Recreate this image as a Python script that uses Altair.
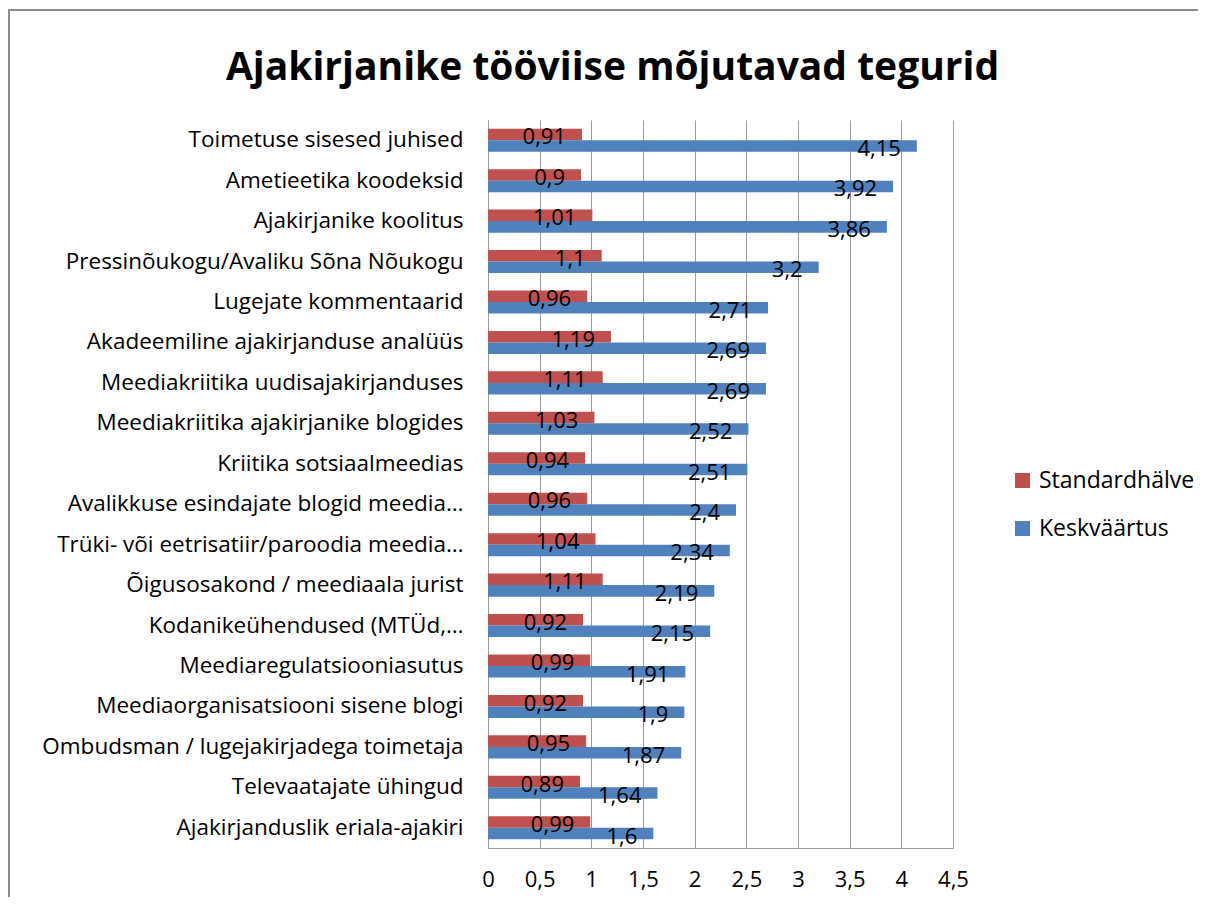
import altair as alt
import pandas as pd

categories = [
    "Toimetuse sisesed  juhised",
    "Ametieetika koodeksid",
    "Ajakirjanike koolitus",
    "Pressinõukogu/Avaliku Sõna Nõukogu",
    "Lugejate kommentaarid",
    "Akadeemiline ajakirjanduse analüüs",
    "Meediakriitika uudisajakirjanduses",
    "Meediakriitika ajakirjanike blogides",
    "Kriitika sotsiaalmeedias",
    "Avalikkuse esindajate blogid meedia…",
    "Trüki- või eetrisatiir/paroodia meedia…",
    "Õigusosakond / meediaala jurist",
    "Kodanikeühendused (MTÜd,…",
    "Meediaregulatsiooniasutus",
    "Meediaorganisatsiooni sisene blogi",
    "Ombudsman / lugejakirjadega toimetaja",
    "Televaatajate ühingud",
    "Ajakirjanduslik eriala-ajakiri",
]
std_dev = [0.91, 0.9, 1.01, 1.1, 0.96, 1.19, 1.11, 1.03, 0.94, 0.96, 1.04, 1.11, 0.92, 0.99, 0.92, 0.95, 0.89, 0.99]
mean = [4.15, 3.92, 3.86, 3.2, 2.71, 2.69, 2.69, 2.52, 2.51, 2.4, 2.34, 2.19, 2.15, 1.91, 1.9, 1.87, 1.64, 1.6]
series = ["Standardhälve", "Keskväärtus"]
colors = ["#C0504D", "#4F81BD"]
x_ticks = [0, 0.5, 1, 1.5, 2, 2.5, 3, 3.5, 4, 4.5]

rows = []
for c, s, m in zip(categories, std_dev, mean):
    rows.append({"cat": c, "series": series[0], "value": s})
    rows.append({"cat": c, "series": series[1], "value": m})
df = pd.DataFrame(rows)

FONT = "Open Sans"

base = alt.Chart(df).transform_calculate(
    lbl="replace(toString(datum.value), '.', ',')"
)

y_enc = alt.Y(
    "cat:N",
    sort=categories,
    title=None,
    scale=alt.Scale(paddingInner=0.43, paddingOuter=0.215),
    axis=alt.Axis(
        labelFontSize=22.5, labelColor="#000000", labelFont=FONT, labelPadding=25,
        ticks=False, domain=True, domainColor="#9a9a9a", labelLimit=600, grid=False,
    ),
)
x_enc = alt.X(
    "value:Q",
    title=None,
    scale=alt.Scale(domain=[0, 4.5], nice=False),
    axis=alt.Axis(
        values=x_ticks,
        labelExpr="replace(toString(datum.value), '.', ',')",
        labelFlush=False,
        grid=True, gridColor="#9a9a9a", ticks=False, domain=True, domainColor="#9a9a9a",
        labelFontSize=22, labelFont=FONT, labelColor="#000000", labelPadding=21,
    ),
)
yoff = alt.YOffset("series:N", sort=series, scale=alt.Scale(paddingInner=0, paddingOuter=0))

bars = base.mark_bar().encode(
    y=y_enc,
    x=x_enc,
    yOffset=yoff,
    color=alt.Color(
        "series:N",
        sort=series,
        scale=alt.Scale(domain=series, range=colors),
        legend=alt.Legend(
            title=None, orient="none", legendX=523, legendY=349,
            symbolType="square", symbolSize=225, symbolStrokeWidth=0,
            labelFontSize=23, labelFont=FONT, labelColor="#000000",
            rowPadding=24, labelOffset=5,
        ),
    ),
)

labels = base.mark_text(
    align="right", baseline="middle", dx=-16, dy=3, fontSize=22, font=FONT, color="#000000"
).encode(
    y=alt.Y("cat:N", sort=categories),
    x=alt.X("value:Q"),
    yOffset=yoff,
    text="lbl:N",
)

frame = alt.Chart(pd.DataFrame({"a": [0]})).mark_rect(
    fill=None, stroke="#8a8a8a", strokeWidth=2, clip=False
).encode(
    x=alt.value(-479), x2=alt.value(760), y=alt.value(-110), y2=alt.value(900)
)

chart = alt.layer(bars, labels, frame).properties(
    width=465,
    height=728,
    title=alt.TitleParams(
        "Ajakirjanike tööviise mõjutavad tegurid",
        fontSize=39, font=FONT, fontWeight="bold", color="#000000",
        anchor="middle", frame="group", dx=-108, offset=-79,
    ),
    autosize=alt.AutoSizeParams(type="none"),
    padding={"left": 480, "top": 112, "right": 245, "bottom": 49},
).configure_view(stroke=None)

chart.save("out.html", embed_options={"renderer": "svg", "actions": False})
